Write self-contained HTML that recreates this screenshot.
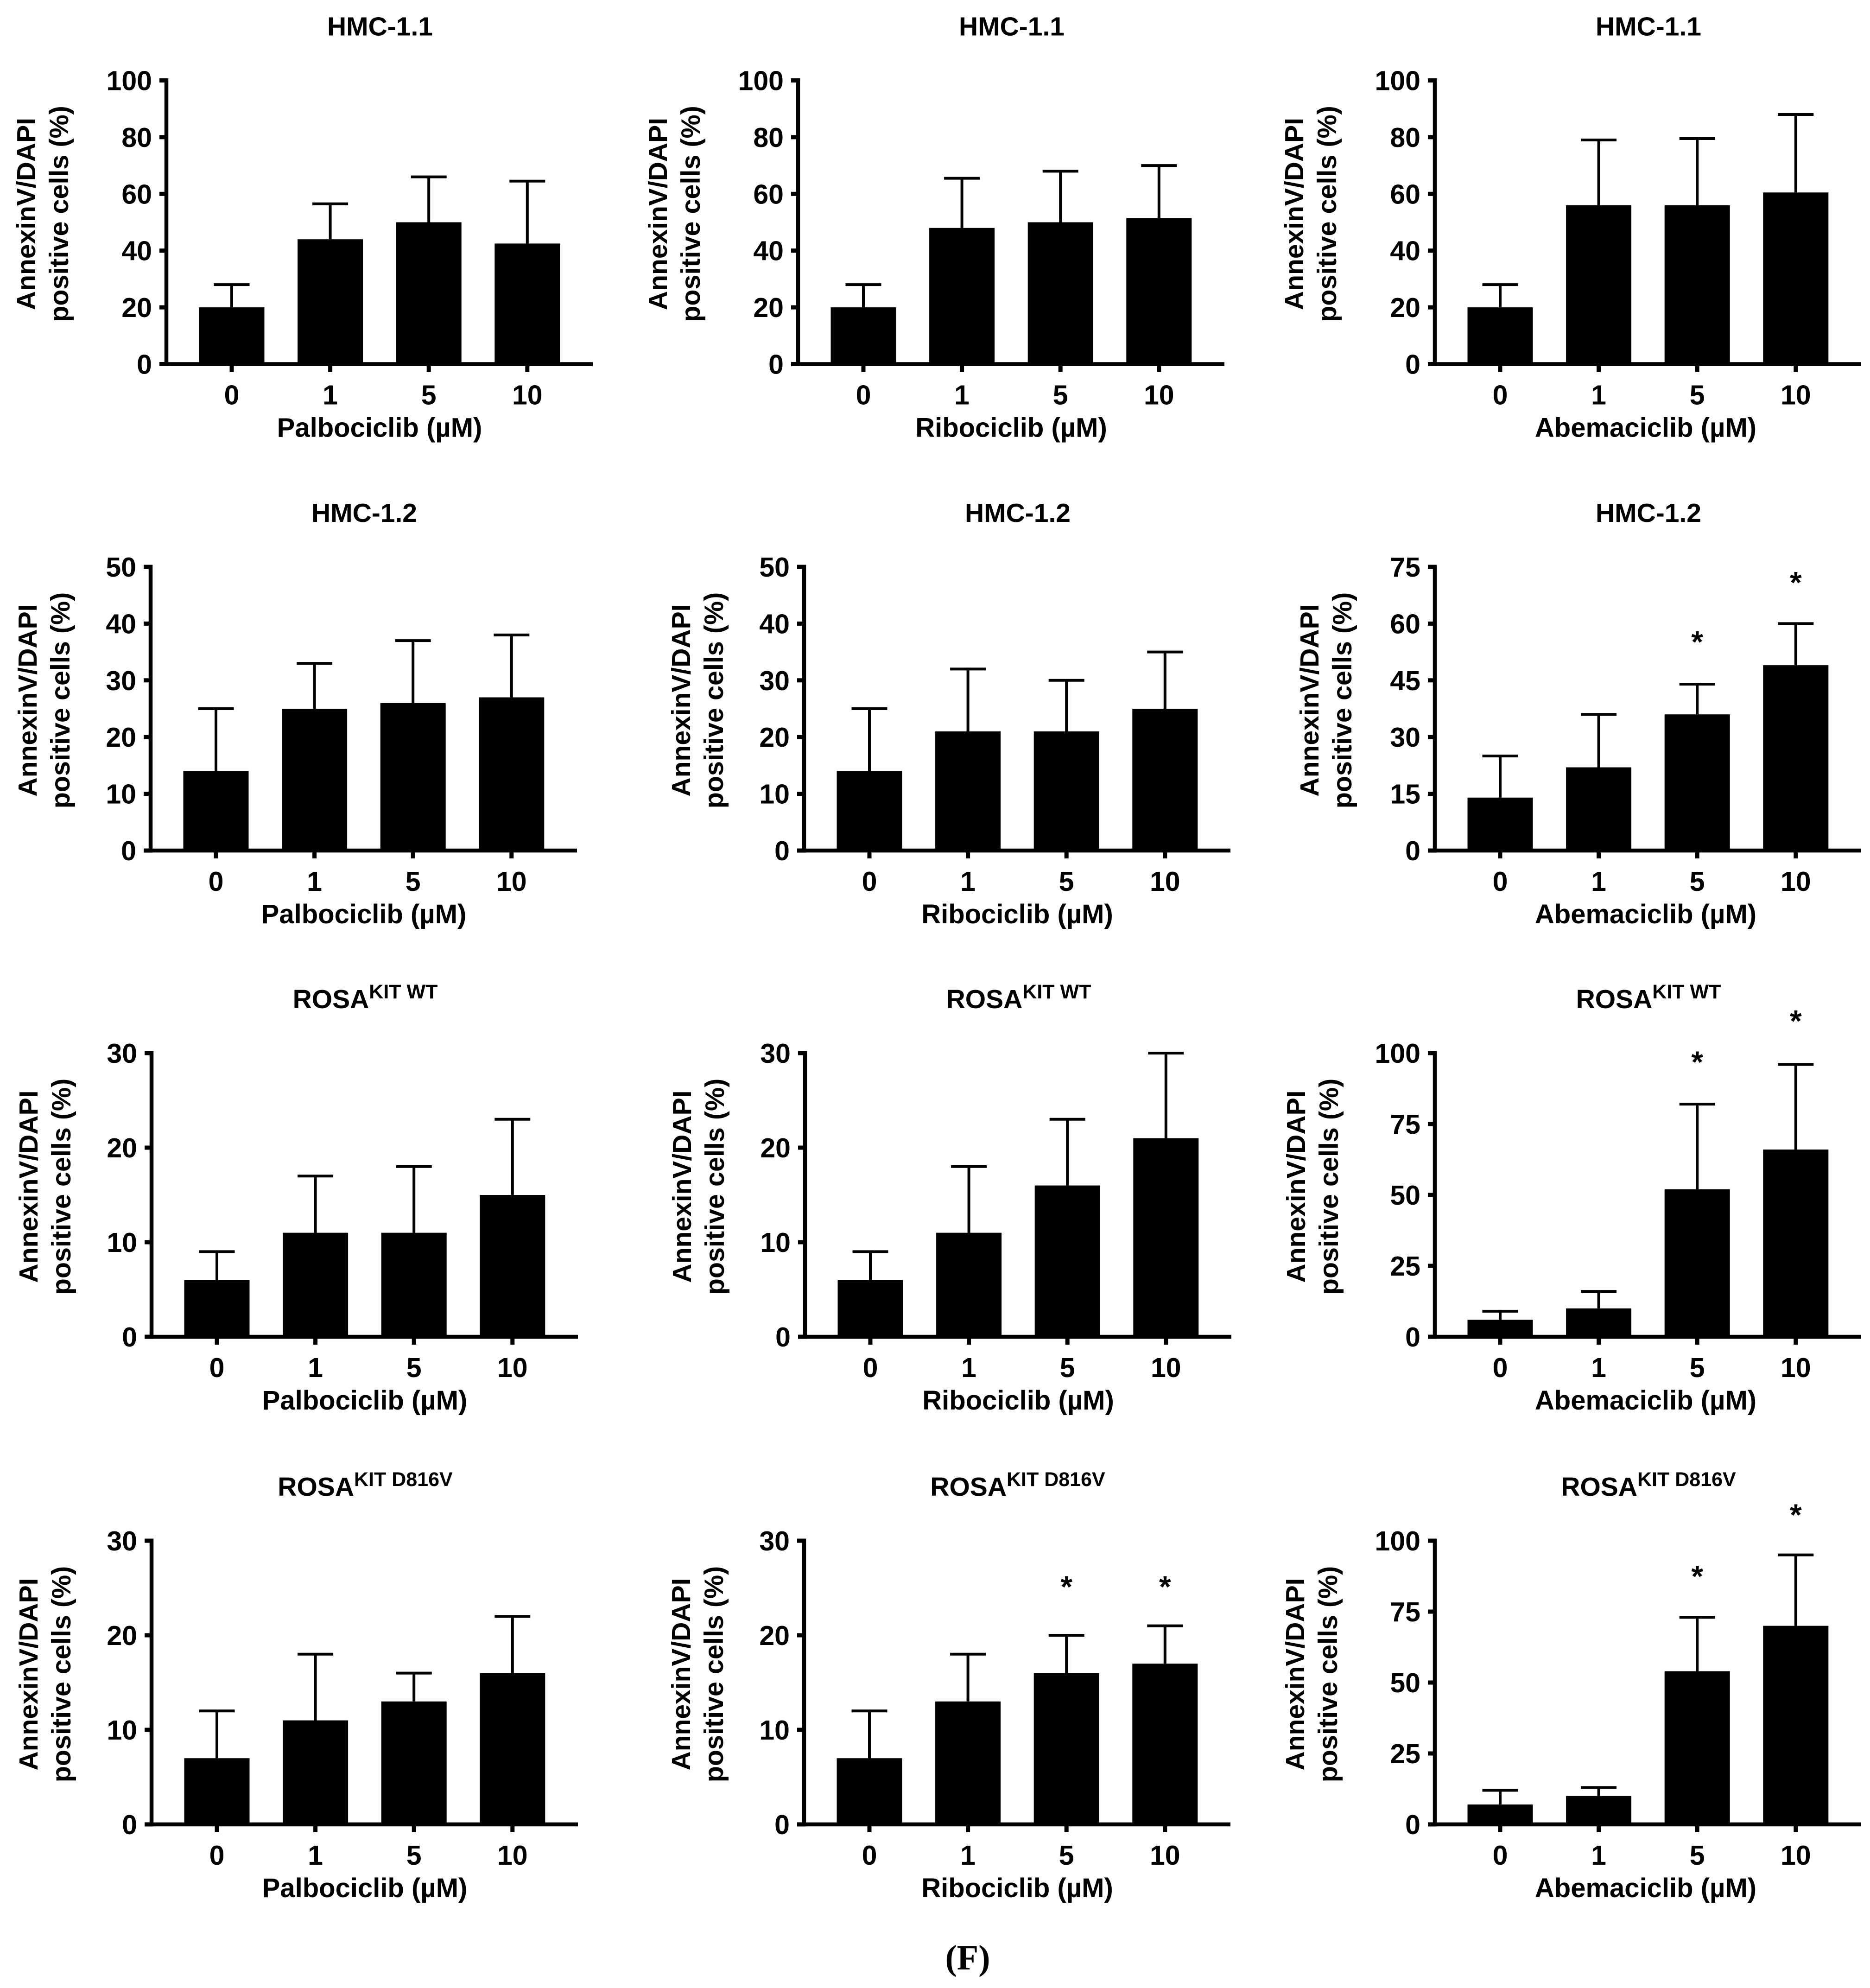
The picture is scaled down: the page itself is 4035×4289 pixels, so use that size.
<!DOCTYPE html>
<html lang="en">
<head>
<meta charset="utf-8">
<title>AnnexinV/DAPI positive cells</title>
<style>
html,body{margin:0;padding:0;background:#fff;width:4035px;height:4289px;overflow:hidden}
svg{display:block}
text{font-family:"Liberation Sans",Arial,sans-serif;font-weight:700;fill:#000}
</style>
</head>
<body>
<svg id="figure" xmlns="http://www.w3.org/2000/svg" width="4035" height="4289" viewBox="0 0 4035 4289">
<text x="2088" y="4249" text-anchor="middle" style="font-family:'Liberation Serif',serif;font-size:76px">(F)</text>
</svg>
<script>
const categories = ['0', '1', '5', '10'];

const ticks100by20 = [0, 20, 40, 60, 80, 100];
const ticks50 = [0, 10, 20, 30, 40, 50];
const ticks75 = [0, 15, 30, 45, 60, 75];
const ticks30 = [0, 10, 20, 30];
const ticks100by25 = [0, 25, 50, 75, 100];

const hmc11PalboMeans = [20, 44, 50, 42.5];
const hmc11PalboTops = [28, 56.5, 66, 64.5];
const hmc11RiboMeans = [20, 48, 50, 51.5];
const hmc11RiboTops = [28, 65.5, 68, 70];
const hmc11AbemaMeans = [20, 56, 56, 60.5];
const hmc11AbemaTops = [28, 79, 79.5, 88];

const hmc12PalboMeans = [14, 25, 26, 27];
const hmc12PalboTops = [25, 33, 37, 38];
const hmc12RiboMeans = [14, 21, 21, 25];
const hmc12RiboTops = [25, 32, 30, 35];
const hmc12AbemaMeans = [14, 22, 36, 49];
const hmc12AbemaTops = [25, 36, 44, 60];
const hmc12AbemaStars = [null, null, 56.3, 72];

const rosaWtPalboMeans = [6, 11, 11, 15];
const rosaWtPalboTops = [9, 17, 18, 23];
const rosaWtRiboMeans = [6, 11, 16, 21];
const rosaWtRiboTops = [9, 18, 23, 30];
const rosaWtAbemaMeans = [6, 10, 52, 66];
const rosaWtAbemaTops = [9, 16, 82, 96];
const rosaWtAbemaStars = [null, null, 98.4, 112.8];

const rosaMutPalboMeans = [7, 11, 13, 16];
const rosaMutPalboTops = [12, 18, 16, 22];
const rosaMutRiboMeans = [7, 13, 16, 17];
const rosaMutRiboTops = [12, 18, 20, 21];
const rosaMutRiboStars = [null, null, 25.6, 25.6];
const rosaMutAbemaMeans = [7, 10, 54, 70];
const rosaMutAbemaTops = [12, 13, 73, 95];
const rosaMutAbemaStars = [null, null, 89, 110.6];

const rowFrames = [
  {top: 173.5, base: 785.5},
  {top: 1223, base: 1835},
  {top: 2272, base: 2884},
  {top: 3324, base: 3936}
];

const panels = [
  {row: 0, left: 359, label: 283, cell: 'HMC-1.1', sup: '', drug: 'Palbociclib', ticks: ticks100by20, means: hmc11PalboMeans, tops: hmc11PalboTops},
  {row: 0, left: 1722, label: 283, cell: 'HMC-1.1', sup: '', drug: 'Ribociclib', ticks: ticks100by20, means: hmc11RiboMeans, tops: hmc11RiboTops},
  {row: 0, left: 3096, label: 284, cell: 'HMC-1.1', sup: '', drug: 'Abemaciclib', ticks: ticks100by20, means: hmc11AbemaMeans, tops: hmc11AbemaTops},
  {row: 1, left: 325, label: 246, cell: 'HMC-1.2', sup: '', drug: 'Palbociclib', ticks: ticks50, means: hmc12PalboMeans, tops: hmc12PalboTops},
  {row: 1, left: 1735, label: 246, cell: 'HMC-1.2', sup: '', drug: 'Ribociclib', ticks: ticks50, means: hmc12RiboMeans, tops: hmc12RiboTops},
  {row: 1, left: 3096, label: 251, cell: 'HMC-1.2', sup: '', drug: 'Abemaciclib', ticks: ticks75, means: hmc12AbemaMeans, tops: hmc12AbemaTops, stars: hmc12AbemaStars},
  {row: 2, left: 327, label: 246, cell: 'ROSA', sup: 'KIT WT', drug: 'Palbociclib', ticks: ticks30, means: rosaWtPalboMeans, tops: rosaWtPalboTops},
  {row: 2, left: 1737, label: 246, cell: 'ROSA', sup: 'KIT WT', drug: 'Ribociclib', ticks: ticks30, means: rosaWtRiboMeans, tops: rosaWtRiboTops},
  {row: 2, left: 3096, label: 280, cell: 'ROSA', sup: 'KIT WT', drug: 'Abemaciclib', ticks: ticks100by25, means: rosaWtAbemaMeans, tops: rosaWtAbemaTops, stars: rosaWtAbemaStars},
  {row: 3, left: 327, label: 246, cell: 'ROSA', sup: 'KIT D816V', drug: 'Palbociclib', ticks: ticks30, means: rosaMutPalboMeans, tops: rosaMutPalboTops},
  {row: 3, left: 1735, label: 246, cell: 'ROSA', sup: 'KIT D816V', drug: 'Ribociclib', ticks: ticks30, means: rosaMutRiboMeans, tops: rosaMutRiboTops, stars: rosaMutRiboStars},
  {row: 3, left: 3096, label: 282, cell: 'ROSA', sup: 'KIT D816V', drug: 'Abemaciclib', ticks: ticks100by25, means: rosaMutAbemaMeans, tops: rosaMutAbemaTops, stars: rosaMutAbemaStars}
];

const NS = 'http://www.w3.org/2000/svg';
const svg = document.getElementById('figure');

function make(tag, attrs, parent, content) {
  const node = document.createElementNS(NS, tag);
  for (const k in attrs) node.setAttribute(k, attrs[k]);
  if (content !== undefined) node.textContent = content;
  parent.appendChild(node);
  return node;
}

panels.forEach(function (p) {
  const frame = rowFrames[p.row];
  const maxTick = p.ticks[p.ticks.length - 1];
  const yScale = function (v) { return frame.base - (v / maxTick) * (frame.base - frame.top); };
  const xScale = function (i) { return p.left + 141 + 212.6 * i; };
  const midY = (frame.top + frame.base) / 2 - 18;
  const midX = p.left + 461;
  const xTitleX = p.drug === 'Abemaciclib' ? midX - 6 : midX - 1;

  const g = make('g', {}, svg);
  
  

  const title = make('text', {x: midX, y: frame.top - 97, 'text-anchor': 'middle', 'font-size': 57}, g, p.cell);
  
  
  if (p.sup) {
    const sup = make('tspan', {dy: -21, 'font-size': 43}, title, p.sup);
    
    
  }

  const labelA = make('text', {transform: 'translate(' + (p.left - p.label) + ',' + midY + ') rotate(-90)', 'text-anchor': 'middle', 'font-size': 57}, g, 'AnnexinV/DAPI');
  
  
  const labelB = make('text', {transform: 'translate(' + (p.left - p.label + 71) + ',' + midY + ') rotate(-90)', 'text-anchor': 'middle', 'font-size': 57.5}, g, 'positive cells (%)');
  
  

  p.means.forEach(function (m, i) {
    const cx = xScale(i);
    const bar = make('rect', {x: cx - 70.5, y: yScale(m), width: 141, height: frame.base - yScale(m), fill: '#000'}, g);
    
    

    const stem = make('line', {x1: cx, x2: cx, y1: yScale(p.tops[i]), y2: yScale(m), stroke: '#000', 'stroke-width': 6}, g);
    
    

    const cap = make('line', {x1: cx - 38.5, x2: cx + 38.5, y1: yScale(p.tops[i]), y2: yScale(p.tops[i]), stroke: '#000', 'stroke-width': 6}, g);
    
    

    if (p.stars && p.stars[i] !== null) {
      const star = make('text', {x: cx, y: yScale(p.stars[i]) + 32, 'text-anchor': 'middle', 'font-size': 66}, g, '*');
      
      
    }

    const tickX = make('line', {x1: cx, x2: cx, y1: frame.base, y2: frame.base + 17, stroke: '#000', 'stroke-width': 9}, g);
    
    

    const tickXLabel = make('text', {x: cx, y: frame.base + 87, 'text-anchor': 'middle', 'font-size': 59}, g, categories[i]);
    
    
  });

  p.ticks.forEach(function (t) {
    const ty = yScale(t);
    const tick = make('line', {x1: p.left - 15, x2: p.left, y1: ty, y2: ty, stroke: '#000', 'stroke-width': 9}, g);
    
    

    const tickLabel = make('text', {x: p.left - 31, y: ty + 21, 'text-anchor': 'end', 'font-size': 59}, g, String(t));
    
    
  });

  const axisY = make('line', {x1: p.left, x2: p.left, y1: frame.top - 4.5, y2: frame.base + 4.5, stroke: '#000', 'stroke-width': 8.5}, g);
  
  

  const axisX = make('line', {x1: p.left - 15, x2: p.left + 920, y1: frame.base, y2: frame.base, stroke: '#000', 'stroke-width': 8.5}, g);
  
  

  const xTitle = make('text', {x: xTitleX, y: frame.base + 157, 'text-anchor': 'middle', 'font-size': 58}, g, p.drug + ' (\u00B5M)');
  
  
});
</script>
</body>
</html>
